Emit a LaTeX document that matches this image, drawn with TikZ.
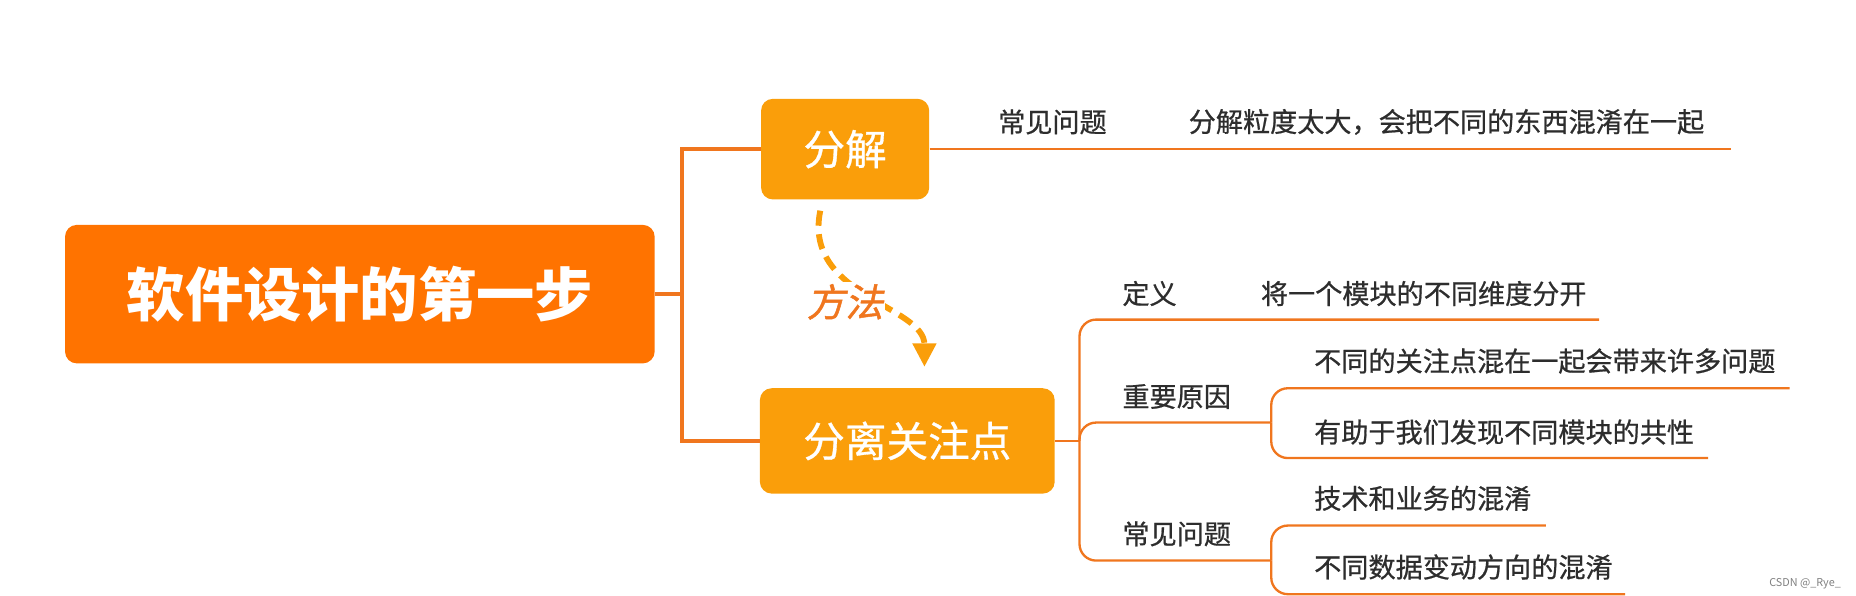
\documentclass[tikz,border=0pt]{standalone}
\usepackage{fontspec}
\setmainfont{Noto Sans CJK SC}
\newfontfamily\slantfont[FakeSlant=0.2,FakeBold=1.2]{Noto Sans CJK SC}
\newfontfamily\medfont[FakeBold=0.7]{Noto Sans CJK SC}
\usetikzlibrary{arrows.meta}
\definecolor{rootorange}{RGB}{255,115,0}
\definecolor{suborange}{RGB}{250,158,10}
\definecolor{lineorange}{RGB}{240,118,30}
\definecolor{textgray}{RGB}{45,45,45}
\begin{document}
\begin{tikzpicture}[x=0.025cm,y=-0.025cm,
    rootbox/.style={fill=rootorange,rounded corners=0.25cm,text=white,minimum width=12.45cm,minimum height=2.925cm,font=\fontsize{35pt}{40pt}\selectfont\bfseries},
    subbox/.style={fill=suborange,rounded corners=0.25cm,text=white,font=\fontsize{25pt}{30pt}\medfont},
    trunk/.style={draw=lineorange,line width=2.1pt},
    branch/.style={draw=lineorange,line width=1.4pt,rounded corners=0.35cm},
    leaf/.style={anchor=west,inner sep=0pt,text=textgray,font=\fontsize{16.3pt}{20pt}\medfont},
    method/.style={draw=suborange,line width=3.5pt,dash pattern=on 0.32cm off 0.18cm,-{Triangle[length=0.5cm,width=0.48cm]}}]
    \useasboundingbox (0,0) rectangle (1568,503);

    \node[rootbox] (root) at (304,248.5) {软件设计的第一步};
    \node[subbox,minimum width=3.55cm,minimum height=2.125cm] (fenjie) at (714,126) {分解};
    \node[subbox,minimum width=6.225cm,minimum height=2.225cm] (fenli) at (766.5,372.5) {分离关注点};

    \coordinate (trunk) at (576,248.5);
    \draw[trunk] (root.east) -- (trunk);
    \draw[trunk] (trunk) |- (fenjie.west);
    \draw[trunk] (trunk) |- (fenli.west);

    \coordinate (fjend) at (1462,126);
    \draw[branch] (fenjie.east) -- (fjend);
    \node[leaf] (fjq) at (843,103) {常见问题};
    \node[leaf] (fja) at (1004,103) {分解粒度太大，会把不同的东西混淆在一起};

    \coordinate (mfrom) at (693,178);
    \coordinate (mto) at (781,310);
    \draw[method] (mfrom) .. controls (678,250) and (781,258) .. (mto);
    \node[fill=white,inner sep=1pt,text=lineorange,font=\fontsize{23pt}{26pt}\slantfont] (fangfa) at (714,255) {方法};

    \coordinate (st) at (912,372.5);
    \coordinate (dyend) at (1351,270);
    \coordinate (yyj) at (1074,357);
    \coordinate (yy1end) at (1512,328);
    \coordinate (yy2end) at (1443,387);
    \coordinate (cjj) at (1074,473.6);
    \coordinate (cj1end) at (1306,444);
    \coordinate (cj2end) at (1373,502);
    \draw[branch] (fenli.east) -- (st);
    \draw[branch] (st) |- (dyend);
    \draw[branch] (st) |- (yyj);
    \draw[branch] (st) |- (cjj);
    \draw[branch] (yyj) |- (yy1end);
    \draw[branch] (yyj) |- (yy2end);
    \draw[branch] (cjj) |- (cj1end);
    \draw[branch] (cjj) |- (cj2end);

    \node[leaf] (dy) at (948,248) {定义};
    \node[leaf] (dya) at (1065,248) {将一个模块的不同维度分开};
    \node[leaf] (yy) at (948,335) {重要原因};
    \node[leaf] (yy1) at (1110,305) {不同的关注点混在一起会带来许多问题};
    \node[leaf] (yy2) at (1110,365) {有助于我们发现不同模块的共性};
    \node[leaf] (cj) at (948,451) {常见问题};
    \node[leaf] (cj1) at (1110,421) {技术和业务的混淆};
    \node[leaf] (cj2) at (1110,479) {不同数据变动方向的混淆};

    \node[text=gray,font=\fontsize{6.5pt}{8pt}\selectfont] (mark) at (1525,493) {CSDN @\_Rye\_};
\end{tikzpicture}
\end{document}
